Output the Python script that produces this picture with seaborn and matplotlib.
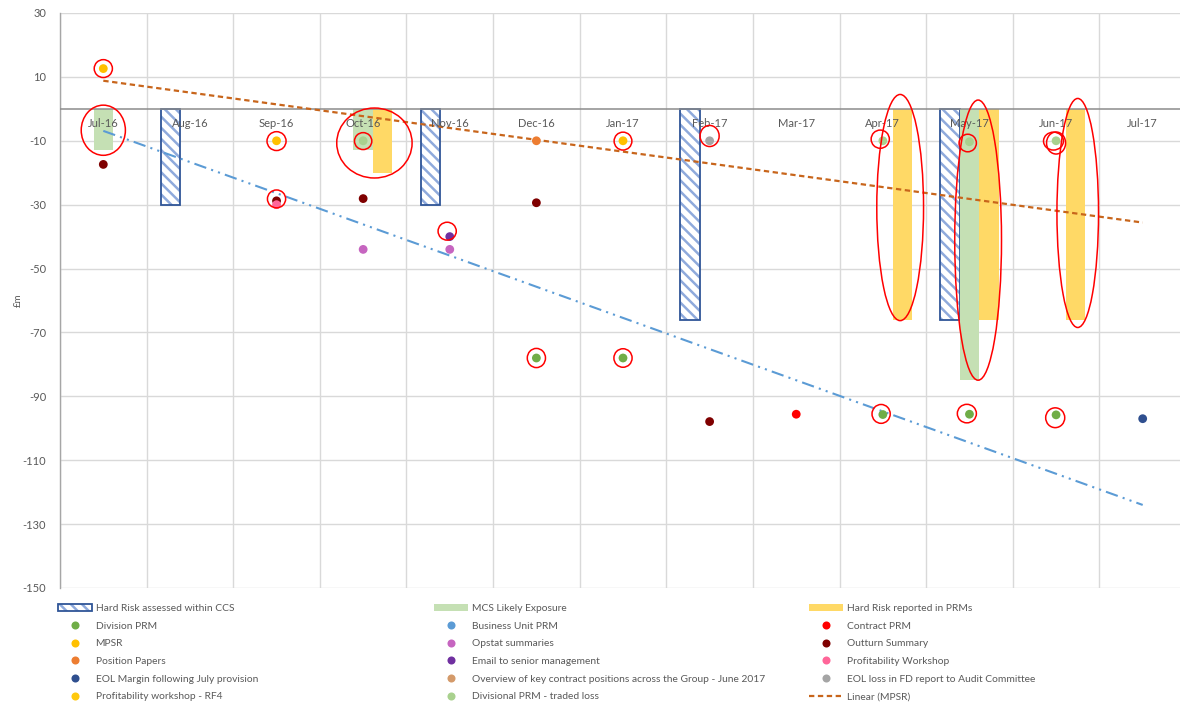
import matplotlib
matplotlib.use("Agg")
import numpy as np
import pandas as pd
import matplotlib.pyplot as plt
import seaborn as sns
from matplotlib.patches import Ellipse, Patch
from matplotlib.lines import Line2D
from matplotlib.colors import to_rgba

# ---------------- data ----------------
months = ["Jul-16", "Aug-16", "Sep-16", "Oct-16", "Nov-16", "Dec-16", "Jan-17",
          "Feb-17", "Mar-17", "Apr-17", "May-17", "Jun-17", "Jul-17"]
y_ticks = [30, 10, -10, -30, -50, -70, -90, -110, -130, -150]

# bar series
ccs_months = ["Aug-16", "Nov-16", "Feb-17", "May-17"]
ccs_values = [-30, -30, -66, -66]
mcs_months = ["Jul-16", "Oct-16", "May-17"]
mcs_values = [-13, -13, -85]
prm_bar_months = ["Oct-16", "Apr-17", "May-17", "Jun-17"]
prm_bar_values = [-20, -66, -66, -66]

# point series
division_prm_months = ["Dec-16", "Jan-17", "Apr-17", "May-17", "Jun-17"]
division_prm_values = [-78, -78, -95.7, -95.6, -95.8]
business_unit_months = []
business_unit_values = []
contract_prm_months = ["Mar-17"]
contract_prm_values = [-95.6]
mpsr_months = ["Jul-16", "Sep-16", "Jan-17"]
mpsr_values = [12.6, -10, -10]
opstat_months = ["Oct-16", "Nov-16"]
opstat_values = [-44, -44]
outturn_months = ["Jul-16", "Sep-16", "Oct-16", "Dec-16", "Feb-17"]
outturn_values = [-17.4, -28.8, -28.1, -29.4, -97.9]
position_months = ["Dec-16"]
position_values = [-10]
email_months = ["Nov-16"]
email_values = [-40]
workshop_months = ["Sep-16"]
workshop_values = [-30]
eol_margin_months = ["Jul-17"]
eol_margin_values = [-97]
overview_months = []
overview_values = []
eol_loss_months = ["Feb-17"]
eol_loss_values = [-10]
rf4_months = []
rf4_values = []
traded_months = ["Oct-16", "Apr-17", "May-17", "Jun-17"]
traded_values = [-10, -10, -10.3, -10]

# trend lines (end points)
mpsr_trend_months = ["Jul-16", "Jul-17"]
mpsr_trend_values = [8.8, -35.6]
blue_trend_months = ["Jul-16", "Jul-17"]
blue_trend_values = [-6.9, -124]

# red highlight rings: centre (category position, value), size (categories, £m)
hl_x = [0, 0, 2, 2, 3.13, 3, 3.97, 6, 7.0, 5, 6, 8.97, 9.2, 9.98, 10.1,
        10.97, 11.0, 11.25, 8.98, 9.97, 10.99]
hl_y = [12.6, -6.7, -10.1, -28.2, -10.7, -10.1, -38.3, -10.1, -8.5, -78, -78,
        -9.5, -30.9, -10.7, -41.1, -10.1, -10.7, -32.6, -95.5, -95.4, -96.7]
hl_w = [0.21, 0.51, 0.22, 0.21, 0.87, 0.2, 0.21, 0.205, 0.22, 0.21, 0.21,
        0.21, 0.54, 0.2, 0.54, 0.23, 0.22, 0.48, 0.21, 0.22, 0.22]
hl_h = [5.6, 15.7, 5.9, 5.6, 21.9, 5.3, 5.6, 5.6, 6.6, 6.0, 5.8,
        5.7, 70.8, 5.5, 87.7, 5.6, 6.9, 71.7, 5.9, 5.8, 6.2]

BAR_NAMES = ["Hard Risk assessed within CCS", "MCS Likely Exposure",
             "Hard Risk reported in PRMs"]
bar_palette = {BAR_NAMES[0]: "#FFFFFF", BAR_NAMES[1]: "#C5E0B4",
               BAR_NAMES[2]: "#FFD966"}

point_series = [
    ("Division PRM", division_prm_months, division_prm_values, "#70AD47"),
    ("Business Unit PRM", business_unit_months, business_unit_values, "#5B9BD5"),
    ("Contract PRM", contract_prm_months, contract_prm_values, "#FF0000"),
    ("MPSR", mpsr_months, mpsr_values, "#FFC000"),
    ("Opstat summaries", opstat_months, opstat_values, "#C665C0"),
    ("Outturn Summary", outturn_months, outturn_values, "#7F0000"),
    ("Position Papers", position_months, position_values, "#ED7D31"),
    ("Email to senior management", email_months, email_values, "#7030A0"),
    ("Profitability Workshop", workshop_months, workshop_values, "#FF6699"),
    ("EOL Margin following July provision", eol_margin_months, eol_margin_values, "#2F4F8F"),
    ("Overview of key contract positions across the Group - June 2017",
     overview_months, overview_values, "#D49A6A"),
    ("EOL loss in FD report to Audit Committee", eol_loss_months, eol_loss_values, "#A5A5A5"),
    ("Profitability workshop - RF4", rf4_months, rf4_values, "#FFC90E"),
    ("Divisional PRM - traded loss", traded_months, traded_values, "#A9D18E"),
]

# ---------------- style ----------------
sns.set_style("white")
plt.rcParams["font.family"] = ["Lato", "DejaVu Sans"]
plt.rcParams["axes.unicode_minus"] = False
plt.rcParams["hatch.linewidth"] = 1.8

TXT = "#595959"
GRID = "#D9D9D9"

fig = plt.figure(figsize=(11.8, 7.04), dpi=100)
W, H = 1180, 704
ax = fig.add_axes([60 / W, (H - 588) / H, (1186 - 60) / W, (588 - 13) / H])

# ---------------- bars ----------------
bar_df = pd.DataFrame({
    "month": ccs_months + mcs_months + prm_bar_months,
    "value": ccs_values + mcs_values + prm_bar_values,
    "series": [BAR_NAMES[0]] * len(ccs_months) + [BAR_NAMES[1]] * len(mcs_months)
              + [BAR_NAMES[2]] * len(prm_bar_months),
})
sns.barplot(data=bar_df, x="month", y="value", hue="series", order=months,
            hue_order=BAR_NAMES, palette=bar_palette, width=0.675, dodge=True,
            saturation=1, errorbar=None, linewidth=0, legend=False, ax=ax,
            zorder=2)


def style_hatched(p):
    p.set_facecolor("white")
    p.set_hatch("\\\\\\")
    p.set_edgecolor("#2F5597")
    p.set_linewidth(1.3)
    if hasattr(p, "set_hatchcolor"):
        p.set_hatchcolor("#8FAADC")
    else:
        p._hatch_color = to_rgba("#8FAADC")
    p.stale = True


for p in list(ax.patches):
    fc = p.get_facecolor()
    if np.allclose(fc[:3], (1, 1, 1)):
        style_hatched(p)

# ---------------- points ----------------
rows = []
for name, ms, vs, col in point_series:
    for m, v in zip(ms, vs):
        rows.append({"x": months.index(m), "value": v, "series": name})
pts = pd.DataFrame(rows)
palette = {name: col for name, _, _, col in point_series}
sns.scatterplot(data=pts, x="x", y="value", hue="series", palette=palette,
                s=40, linewidth=0, legend=False, ax=ax, zorder=4)

# ---------------- trend lines ----------------
ax.plot([months.index(m) for m in blue_trend_months], blue_trend_values,
        color="#5B9BD5", lw=1.5, dashes=(6, 2.5, 1, 2.5, 1, 2.5), zorder=3)
ax.plot([months.index(m) for m in mpsr_trend_months], mpsr_trend_values,
        color="#C8651B", lw=1.6, dashes=(2.4, 1.6), zorder=3)

# ---------------- highlight rings ----------------
for x, y, w, h in zip(hl_x, hl_y, hl_w, hl_h):
    ax.add_patch(Ellipse((x, y), w, h, fill=False, edgecolor="#FF0000",
                         lw=1.1, zorder=5))

# ---------------- axes ----------------
ax.set_xlim(-0.5, 12.5)
ax.set_ylim(-150, 30)
ax.set_yticks(y_ticks)
ax.set_xticks([])
ax.set_xticks(np.arange(-0.5, 13, 1), minor=True)
ax.tick_params(axis="x", which="both", length=0)
ax.tick_params(axis="y", length=0, pad=10, labelsize=8, labelcolor=TXT)
ax.grid(axis="y", which="major", color=GRID, lw=1)
ax.grid(axis="x", which="minor", color=GRID, lw=1)
ax.set_axisbelow(True)
for s in ["top", "right", "bottom"]:
    ax.spines[s].set_visible(False)
ax.spines["left"].set_color("#A6A6A6")
ax.spines["left"].set_linewidth(1)
ax.axhline(0, color="#8C8C8C", lw=1.1, zorder=2.6)
ax.set_xlabel("")
ax.set_ylabel("£m", fontsize=7, color=TXT, labelpad=0)

for i, m in enumerate(months):
    ax.text(i, -4.5, m, ha="center", va="center", fontsize=8, color=TXT,
            zorder=3.5)

# ---------------- legend ----------------
def marker(c):
    return Line2D([0], [0], marker="o", ls="", markersize=5.8, color=c,
                  markeredgewidth=0)

hatch_handle = Patch(facecolor="white", edgecolor="#2F5597", hatch="\\\\\\", lw=1.2)
style_hatched(hatch_handle)

cols = [
    [(hatch_handle, BAR_NAMES[0])] +
    [(marker(c), n) for n, _, _, c in point_series[0::3]],
    [(Patch(facecolor=bar_palette[BAR_NAMES[1]], lw=0), BAR_NAMES[1])] +
    [(marker(c), n) for n, _, _, c in point_series[1::3]],
    [(Patch(facecolor=bar_palette[BAR_NAMES[2]], lw=0), BAR_NAMES[2])] +
    [(marker(c), n) for n, _, _, c in point_series[2::3]] +
    [(Line2D([0], [0], color="#C8651B", lw=1.6, dashes=(2.4, 1.6)), "Linear (MPSR)")],
]
col_x = [58, 434, 809]
for cx, items in zip(col_x, cols):
    hs = [h for h, _ in items]
    ls = [l for _, l in items]
    fig.legend(hs, ls, loc="upper left", bbox_to_anchor=(cx / W, 1 - 604 / H),
               bbox_transform=fig.transFigure, frameon=False, fontsize=7.4,
               labelcolor=TXT, handlelength=3.3, handletextpad=0.35,
               labelspacing=0.82, borderpad=0, borderaxespad=0)

fig.savefig("out.png", dpi=100)
